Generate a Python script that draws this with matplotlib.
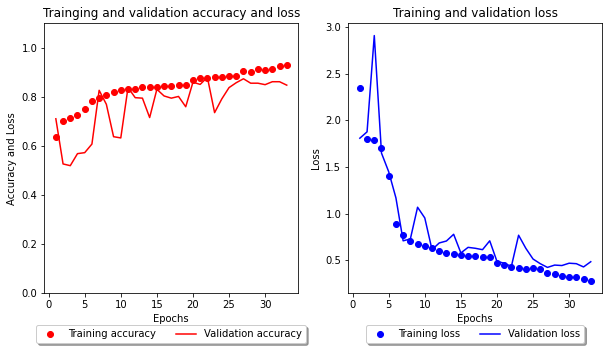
import matplotlib.pyplot as plt

# 에포크별 학습 기록
epochs = list(range(1, 34))

train_acc = [0.635, 0.701, 0.714, 0.728, 0.750, 0.783, 0.797, 0.809, 0.820, 0.827,
             0.831, 0.831, 0.839, 0.839, 0.839, 0.843, 0.843, 0.847, 0.847, 0.868,
             0.876, 0.876, 0.880, 0.882, 0.884, 0.887, 0.904, 0.903, 0.912, 0.911,
             0.915, 0.925, 0.929]
val_acc = [0.711, 0.527, 0.520, 0.569, 0.573, 0.608, 0.827, 0.770, 0.638, 0.633,
           0.838, 0.797, 0.795, 0.716, 0.831, 0.804, 0.795, 0.802, 0.760, 0.860,
           0.851, 0.880, 0.736, 0.792, 0.838, 0.858, 0.874, 0.856, 0.856, 0.850,
           0.862, 0.862, 0.848]

train_loss = [2.35, 1.80, 1.79, 1.70, 1.405, 0.89, 0.77, 0.71, 0.676, 0.654,
              0.63, 0.604, 0.583, 0.568, 0.557, 0.55, 0.547, 0.536, 0.536, 0.47,
              0.447, 0.43, 0.418, 0.407, 0.418, 0.407, 0.364, 0.354, 0.333, 0.32,
              0.32, 0.30, 0.279]
val_loss = [1.81, 1.878, 2.91, 1.65, 1.45, 1.17, 0.71, 0.73, 1.07, 0.955,
            0.615, 0.687, 0.708, 0.78, 0.58, 0.64, 0.63, 0.615, 0.71, 0.49,
            0.47, 0.436, 0.77, 0.63, 0.515, 0.465, 0.425, 0.45, 0.445, 0.47,
            0.465, 0.43, 0.486]

fig = plt.figure(figsize=(609 / 72, 350 / 72), dpi=72)

# 정확도 그래프
ax1 = fig.add_axes([44.3 / 609, 1 - 293.3 / 350, 254 / 609, 270 / 350])
ax1.plot(epochs, train_acc, 'ro', label='Training accuracy')
ax1.plot(epochs, val_acc, 'r', label='Validation accuracy')
ax1.set_ylim(0, 1.1)
ax1.set_title('Trainging and validation accuracy and loss')
ax1.set_xlabel('Epochs')
ax1.set_ylabel('Accuracy and Loss')
ax1.legend(loc='upper center', bbox_to_anchor=(0.5, -0.1),
           fancybox=True, shadow=True, ncol=2)

# 손실 그래프
ax2 = fig.add_axes([348.3 / 609, 1 - 293.3 / 350, 254 / 609, 270 / 350])
ax2.plot(epochs, train_loss, 'bo', label='Training loss')
ax2.plot(epochs, val_loss, 'b', label='Validation loss')
ax2.set_title('Training and validation loss')
ax2.set_xlabel('Epochs')
ax2.set_ylabel('Loss')
ax2.legend(loc='upper center', bbox_to_anchor=(0.5, -0.1),
           fancybox=True, shadow=True, ncol=2)

plt.savefig('out.png', dpi=72)
